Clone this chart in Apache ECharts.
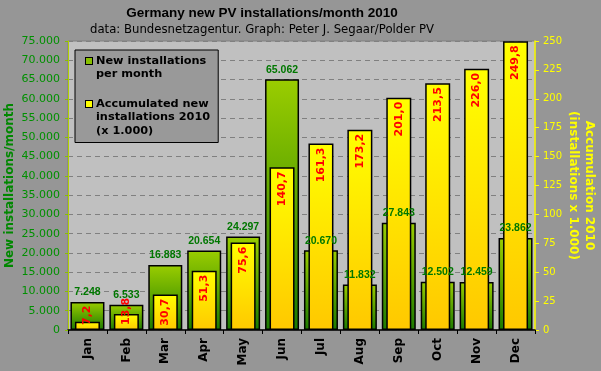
<!DOCTYPE html>
<html>
<head>
<meta charset="utf-8">
<script src="https://cdn.jsdelivr.net/npm/echarts@6/dist/echarts.min.js"></script>
<style>
html,body{margin:0;padding:0;background:#969696;}
#c{width:601px;height:371px;}
</style>
</head>
<body>
<div id="c"></div>
<script>
var months = ['Jan','Feb','Mar','Apr','May','Jun','Jul','Aug','Sep','Oct','Nov','Dec'];
var newInstallations = [7248, 6533, 16883, 20654, 24297, 65062, 20670, 11832, 27843, 12502, 12459, 23862];
var accumulated = [7.2, 13.8, 30.7, 51.3, 75.6, 140.7, 161.3, 173.2, 201.0, 213.5, 226.0, 249.8];
var leftTicks = {min: 0, max: 75000, interval: 5000};
var rightTicks = {min: 0, max: 250, interval: 25};

function dotThousands(v) {
  return String(v).replace(/\B(?=(\d{3})+(?!\d))/g, '.');
}
function commaDec(v) {
  return v.toFixed(1).replace('.', ',');
}

var FONT = 'DejaVu Sans';
var chart = echarts.init(document.getElementById('c'));

var accData = accumulated.map(function (v) {
  var item = {value: v};
  if (v < 25) {
    item.label = {position: 'insideBottom', align: 'left', distance: 5};
  }
  return item;
});

var option = {
  backgroundColor: '#969696',
  animation: false,
  title: {
    text: 'Germany new PV installations/month 2010',
    subtext: 'data: Bundesnetzagentur. Graph: Peter J. Segaar/Polder PV',
    left: 257,
    textAlign: 'center',
    top: 1,
    itemGap: 4,
    textStyle: {fontFamily: 'Liberation Sans', fontWeight: 'bold', fontSize: 13.5, color: '#000'},
    subtextStyle: {fontFamily: FONT, fontSize: 11.7, color: '#000'}
  },
  legend: {
    orient: 'vertical',
    left: 75,
    top: 50,
    backgroundColor: '#999999',
    borderColor: '#000',
    borderWidth: 1,
    borderRadius: 0,
    padding: [5, 8, 6, 5],
    itemGap: 18,
    itemWidth: 0,
    itemHeight: 0,
    icon: 'rect',
    selectedMode: false,
    data: ['New installations per month', 'Accumulated new installations 2010 (x 1.000)'],
    formatter: function (name) {
      if (name === 'New installations per month') {
        return '{g|}{t|New installations}\n{i|per month}';
      }
      return '{y|}{t|Accumulated new}\n{i|installations 2010}\n{i|(x 1.000)}';
    },
    textStyle: {
      rich: {
        g: {width: 6, height: 6, backgroundColor: '#88c000', borderColor: '#000', borderWidth: 1, verticalAlign: 'middle'},
        y: {width: 6, height: 6, backgroundColor: '#ffff00', borderColor: '#000', borderWidth: 1, verticalAlign: 'middle'},
        t: {fontFamily: FONT, fontWeight: 'bold', fontSize: 11.3, color: '#000', lineHeight: 13.5, padding: [0, 0, 0, 4]},
        i: {fontFamily: FONT, fontWeight: 'bold', fontSize: 11.3, color: '#000', lineHeight: 13.5, padding: [0, 0, 0, 10]}
      }
    }
  },
  grid: {
    left: 68, right: 66, top: 41, bottom: 41,
    outerBoundsMode: 'none',
    containLabel: false,
    show: true,
    backgroundColor: '#c0c0c0',
    borderColor: '#808080',
    borderWidth: 1
  },
  xAxis: [{
    type: 'category',
    data: months,
    axisLine: {lineStyle: {color: '#000', width: 1.5}},
    axisTick: {show: true, length: 4, lineStyle: {color: '#000'}},
    axisLabel: {rotate: 90, margin: 8, fontFamily: FONT, fontWeight: 'bold', fontSize: 12, color: '#000'},
    splitLine: {show: false}
  }, {
    type: 'category',
    data: months,
    show: false
  }],
  yAxis: [{
    type: 'value',
    min: leftTicks.min, max: leftTicks.max, interval: leftTicks.interval,
    name: 'New installations/month',
    nameLocation: 'middle',
    nameRotate: 90,
    nameGap: 52,
    nameMoveOverlap: false,
    nameTextStyle: {fontFamily: FONT, fontWeight: 'bold', fontSize: 12, color: '#008800'},
    axisLine: {show: true, lineStyle: {color: '#b0d000', width: 1}},
    axisTick: {show: true, length: 3, lineStyle: {color: '#88c000'}},
    axisLabel: {margin: 8, fontFamily: FONT, fontSize: 11, color: '#009000', formatter: function (v) { return dotThousands(v); }},
    splitLine: {show: true, lineStyle: {color: '#808080', type: [5, 4], width: 1}}
  }, {
    type: 'value',
    position: 'right',
    min: rightTicks.min, max: rightTicks.max, interval: rightTicks.interval,
    name: 'Accumulation 2010\n(installations x 1.000)',
    nameLocation: 'middle',
    nameRotate: -90,
    nameGap: 30,
    nameMoveOverlap: false,
    nameTextStyle: {fontFamily: FONT, fontWeight: 'bold', fontSize: 12, color: '#ffff00', lineHeight: 16},
    axisLine: {show: true, lineStyle: {color: '#ffff00', width: 1.5}},
    axisTick: {show: true, length: 4, lineStyle: {color: '#ffff00'}},
    axisLabel: {margin: 8, fontFamily: FONT, fontSize: 10, color: '#ffff00'},
    splitLine: {show: false}
  }],
  series: [{
    name: 'New installations per month',
    type: 'bar',
    xAxisIndex: 0,
    yAxisIndex: 0,
    barWidth: 34,
    data: newInstallations,
    itemStyle: {
      color: new echarts.graphic.LinearGradient(0, 0, 0, 1, [
        {offset: 0, color: '#9acd00'},
        {offset: 1, color: '#1c7a00'}
      ]),
      borderColor: '#000',
      borderWidth: 1.5
    },
    label: {
      show: true,
      position: 'top',
      distance: 4,
      fontFamily: 'Liberation Sans',
      fontWeight: 'bold',
      fontSize: 10.5,
      color: '#007700',
      formatter: function (p) { return dotThousands(p.value); }
    }
  }, {
    name: 'Accumulated new installations 2010 (x 1.000)',
    type: 'bar',
    xAxisIndex: 1,
    yAxisIndex: 1,
    barWidth: 25,
    data: accData,
    itemStyle: {
      color: new echarts.graphic.LinearGradient(0, 0, 0, 1, [
        {offset: 0, color: '#ffff00'},
        {offset: 1, color: '#ffc800'}
      ]),
      borderColor: '#000',
      borderWidth: 1.5
    },
    label: {
      show: true,
      position: 'insideTop',
      rotate: 90,
      align: 'right',
      verticalAlign: 'middle',
      distance: 4,
      fontFamily: FONT,
      fontWeight: 'bold',
      fontSize: 11,
      color: '#ff0000',
      formatter: function (p) { return commaDec(p.value); }
    }
  }]
};
chart.setOption(option);
</script>
</body>
</html>
